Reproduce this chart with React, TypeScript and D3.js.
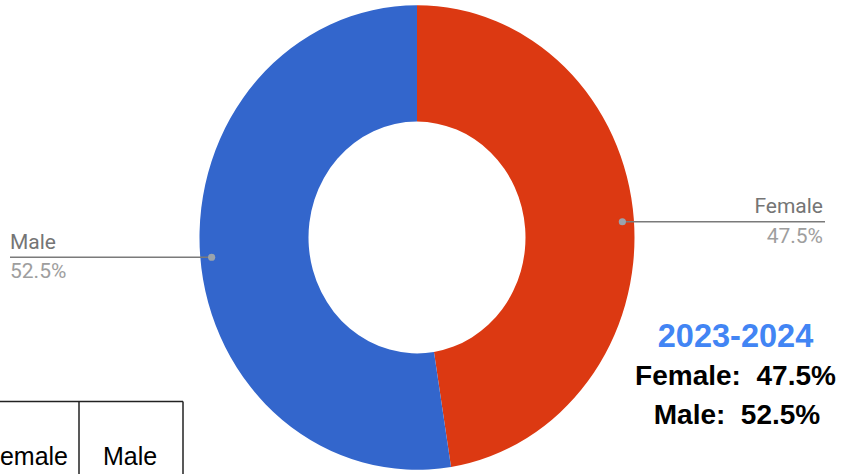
import React from "react";
import * as d3 from "d3";

const categories = ["Female", "Male"];
const values = [47.5, 52.5];
const colors = ["#DC3912", "#3366CC"];
const titleText = "2023-2024";
const summaryLines = ["Female:  47.5%", "Male:  52.5%"];
const tableHeaders = ["Female", "Male"];

const W = 844;
const H = 474;
const cx = 417;
const cy = 237.5;
const sy = 1.068;
const rOuter = 217.5;
const rInner = 108.5;

const keepSpaces = (s: string) => s.replace(/ /g, "\u00A0");

export default function App() {
  const data = categories.map((c, i) => ({ name: c, value: values[i], color: colors[i] }));
  const pie = d3.pie<any>().value((d: any) => d.value).sort(null).startAngle(0).endAngle(2 * Math.PI);
  const arcs = pie(data);
  const arc = d3.arc<any>().innerRadius(rInner).outerRadius(rOuter);
  const fmt = (v: number) => d3.format(".1f")(v) + "%";
  const rDot = 206;

  return (
    <svg width={W} height={H} style={{ position: "absolute", left: 0, top: 0, background: "#fff" }}>
      <rect x={0} y={0} width={W} height={H} fill="#fff" />
      <g transform={`translate(${cx},${cy}) scale(1,${sy})`}>
        {arcs.map((a: any, i: number) => (
          <path key={i} d={arc(a) as string} fill={a.data.color} />
        ))}
      </g>
      {arcs.map((a: any, i: number) => {
        const mid = (a.startAngle + a.endAngle) / 2;
        const dx = cx + rDot * Math.sin(mid);
        const dy = cy - rDot * Math.cos(mid) * sy + (i === 1 ? 2.5 : 1.5);
        const right = Math.sin(mid) > 0;
        const ex = right ? 825 : 10;
        return (
          <g key={i}>
            <line x1={dx} y1={dy} x2={ex} y2={dy} stroke="#7a7a7a" strokeWidth={1.6} />
            <circle cx={dx} cy={dy} r={3.6} fill="#9aa3ad" />
            <text x={ex - (right ? 2 : 0)} y={dy - 8.5} textAnchor={right ? "end" : "start"}
              fontFamily="Roboto" fontSize={21} fill="#757575">{a.data.name}</text>
            <text x={ex - (right ? 2 : 0)} y={dy + 21} textAnchor={right ? "end" : "start"}
              fontFamily="Roboto" fontSize={21} fill="#9e9e9e">{fmt(a.data.value)}</text>
          </g>
        );
      })}
      <g fontFamily="'Liberation Sans', Arial, sans-serif" fontWeight="bold" textAnchor="middle">
        <text x={735.5} y={347} fontSize={32.5} fill="#4285F4">{titleText}</text>
        <text x={735.5} y={385} fontSize={28} fill="#000">{keepSpaces(summaryLines[0])}</text>
        <text x={737} y={424} fontSize={28} fill="#000">{keepSpaces(summaryLines[1])}</text>
      </g>
      <g stroke="#222" strokeWidth={1.5} fill="none">
        <line x1={-5} y1={401.5} x2={183} y2={401.5} />
        <line x1={79} y1={401.5} x2={79} y2={480} />
        <line x1={183} y1={401.5} x2={183} y2={480} />
      </g>
      <g fontFamily="'Liberation Sans', Arial, sans-serif" fontSize={25} fill="#000">
        <text x={68} y={465} textAnchor="end">{tableHeaders[0]}</text>
        <text x={130} y={465} textAnchor="middle">{tableHeaders[1]}</text>
      </g>
    </svg>
  );
}
